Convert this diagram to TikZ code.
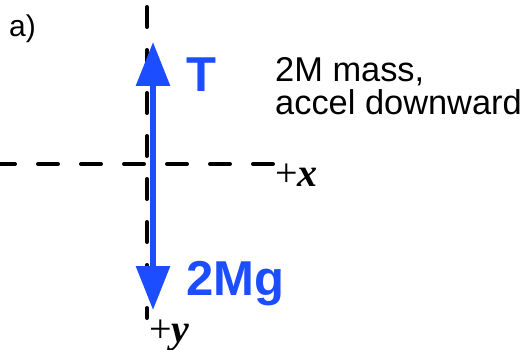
\documentclass[tikz,border=0pt]{standalone}
\usepackage{fontspec}
\setmainfont{Liberation Sans}
\newfontfamily\serifit{Liberation Serif}
\usetikzlibrary{arrows.meta}
\definecolor{forceblue}{RGB}{28,77,255}
\tikzset{
  axisline/.style={line width=4pt, line cap=round, dash pattern=on 20pt off 23pt, black},
  forcearrow/.style={forceblue, line width=6pt,
    {Triangle[width=33pt,length=44pt]}-{Triangle[width=33pt,length=44pt]}},
  forcelabel/.style={forceblue, font=\fontsize{49}{49}\selectfont\bfseries, anchor=base west, inner sep=0pt},
  plainlabel/.style={black, font=\fontsize{34.4}{34.4}\selectfont, anchor=base west, inner sep=0pt},
  axislabel/.style={black, font=\fontsize{40}{40}\selectfont\serifit, anchor=base west, inner sep=0pt}
}
\begin{document}
\begin{tikzpicture}[x=1pt,y=-1pt]
\useasboundingbox (0,0) rectangle (524,350);
\coordinate (ytop) at (147,7);
\coordinate (ybot) at (147,318);
\coordinate (xleft) at (-20,164);
\coordinate (xright) at (273,164);
\coordinate (Ttip) at (153,42);
\coordinate (Wtip) at (153,310);
\draw[axisline] (ytop) -- (ybot);
\draw[axisline] (xright) -- (xleft);
\draw[forcearrow] (Wtip) -- (Ttip);
\node[plainlabel, font=\fontsize{30}{30}\selectfont] (lab) at (9,37) {a)};
\node[forcelabel] (T) at (186,92) {T};
\node[forcelabel] (W) at (186,295) {2Mg};
\node[plainlabel] (desc1) at (275,82) {2M mass,};
\node[plainlabel] (desc2) at (275,114) {accel downward};
\node[axislabel] (px) at (275,186) {+\textit{\textbf{x}}};
\node[axislabel] (py) at (149,342) {+\textit{\textbf{y}}};
\end{tikzpicture}
\end{document}
